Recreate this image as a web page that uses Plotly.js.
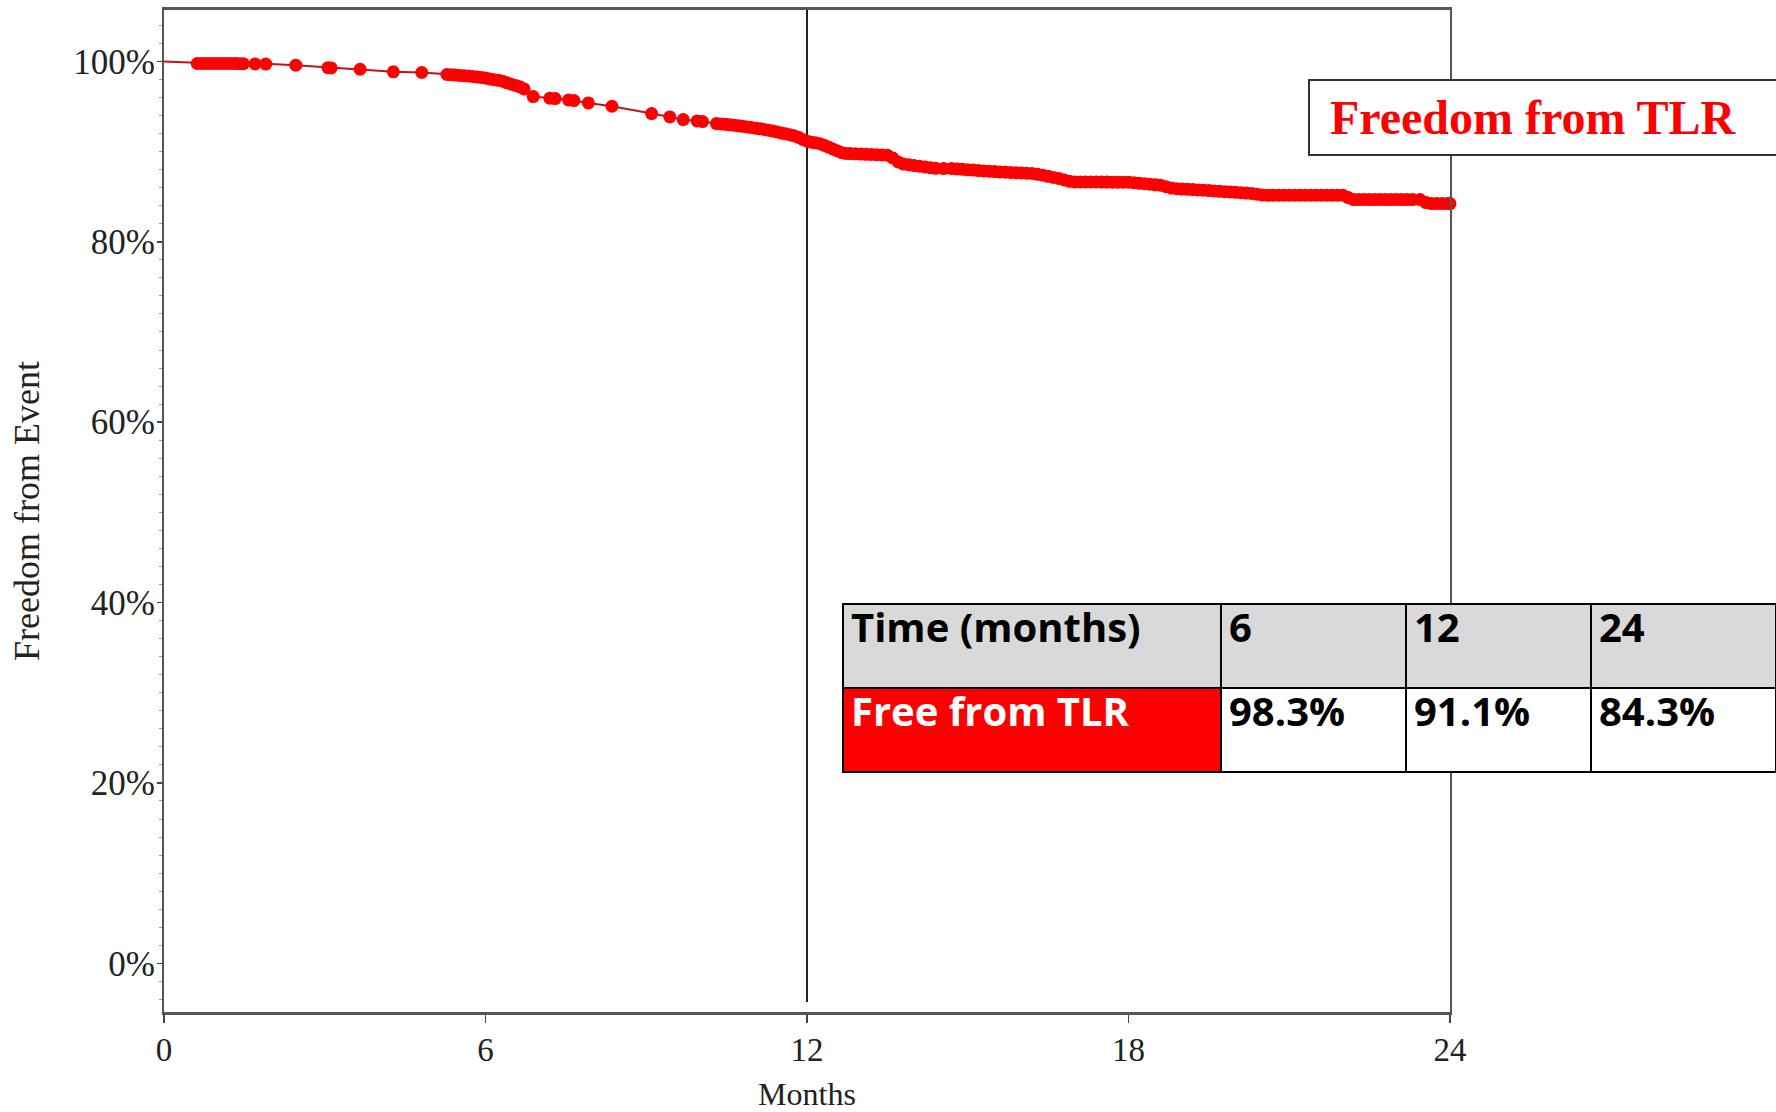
<!DOCTYPE html>
<html>
<head>
<meta charset="utf-8">
<script src="https://cdn.plot.ly/plotly-3.0.1.min.js"></script>
<style>html,body{margin:0;padding:0;background:#fff;}#chart{width:1776px;height:1112px;}</style>
</head>
<body>
<div id="chart"></div>
<script>
// ---- data ----
var curveMonths = [0, 0.6, 1.5, 2.0, 2.46, 3.1, 3.66, 4.28, 4.81, 5.28, 5.7, 6.0, 6.27, 6.64, 6.89, 7.26, 7.61, 7.92, 8.36, 9.1, 9.44, 9.69, 10.0, 10.31, 10.8, 11.3, 11.74, 12.0, 12.24, 12.68, 13.0, 13.55, 13.74, 14.48, 14.67, 15.6, 16.22, 16.72, 16.97, 18.03, 18.59, 18.84, 20.33, 20.52, 22.07, 22.13, 23.44, 23.57, 24.0];
var curveSurvival = [100, 99.85, 99.77, 99.72, 99.58, 99.3, 99.13, 98.85, 98.77, 98.55, 98.4, 98.15, 97.9, 97.2, 96.1, 95.9, 95.7, 95.4, 95.03, 94.22, 93.84, 93.55, 93.37, 93.11, 92.8, 92.4, 91.81, 91.2, 90.9, 89.8, 89.7, 89.6, 88.7, 88.12, 88.1, 87.75, 87.57, 87.0, 86.64, 86.6, 86.27, 85.9, 85.35, 85.16, 85.16, 84.68, 84.68, 84.24, 84.24];

var censorMonths = [0.62, 0.70, 0.78, 0.86, 0.94, 1.02, 1.10, 1.18, 1.26, 1.34, 1.42, 1.48, 1.70, 1.90, 2.46, 3.06, 3.12, 3.66, 4.28, 4.81,
  5.28, 5.36, 5.44, 5.52, 5.60, 5.68, 5.76, 5.84, 5.92, 6.00, 6.08, 6.16, 6.24, 6.32, 6.40, 6.48, 6.56, 6.64, 6.72, 6.89,
  7.20, 7.30, 7.55, 7.65, 7.92, 8.36, 9.10, 9.44, 9.69, 9.95, 10.05,
  10.31, 10.40, 10.48, 10.56, 10.64, 10.72, 10.80, 10.88, 10.96, 11.04, 11.12, 11.20, 11.28, 11.36, 11.44, 11.52, 11.60, 11.68, 11.76, 11.84, 11.92,
  12.00, 12.08, 12.16, 12.24, 12.32, 12.40, 12.48, 12.56, 12.64, 12.72, 12.80, 12.90, 13.00, 13.10, 13.20, 13.30, 13.40, 13.50, 13.60, 13.70, 13.80, 13.90,
  14.00, 14.10, 14.20, 14.30, 14.40, 14.55, 14.70, 14.80, 14.90, 15.00, 15.10, 15.20, 15.30, 15.40, 15.50, 15.60, 15.70, 15.80, 15.90,
  16.00, 16.10, 16.20, 16.30, 16.40, 16.50, 16.60, 16.70, 16.80, 16.90, 17.00, 17.10, 17.20, 17.30, 17.40, 17.50, 17.60, 17.70, 17.80, 17.90,
  18.00, 18.10, 18.20, 18.30, 18.40, 18.50, 18.60, 18.70, 18.80, 18.90, 19.00, 19.10, 19.20, 19.30, 19.40, 19.50, 19.60, 19.70, 19.80, 19.90,
  20.00, 20.10, 20.20, 20.30, 20.40, 20.50, 20.60, 20.70, 20.80, 20.90, 21.00, 21.10, 21.20, 21.30, 21.40, 21.50, 21.60, 21.70, 21.80, 21.90,
  22.00, 22.10, 22.20, 22.30, 22.40, 22.50, 22.60, 22.70, 22.80, 22.90, 23.00, 23.10, 23.20, 23.30, 23.44, 23.55, 23.65, 23.75, 23.85, 23.95, 24.00];
var censorSurvival = [99.77, 99.77, 99.77, 99.77, 99.77, 99.77, 99.77, 99.77, 99.77, 99.76, 99.75, 99.75, 99.72, 99.70, 99.58, 99.30, 99.28, 99.13, 98.84, 98.77,
  98.55, 98.52, 98.49, 98.45, 98.42, 98.38, 98.33, 98.28, 98.22, 98.15, 98.06, 97.97, 97.90, 97.80, 97.62, 97.48, 97.33, 97.18, 96.95, 96.10,
  95.92, 95.88, 95.72, 95.66, 95.40, 95.03, 94.22, 93.84, 93.55, 93.40, 93.33,
  93.11, 93.07, 93.02, 92.97, 92.92, 92.86, 92.80, 92.74, 92.67, 92.60, 92.53, 92.46, 92.38, 92.28, 92.18, 92.07, 91.97, 91.87, 91.75, 91.58, 91.35,
  91.15, 91.05, 90.97, 90.88, 90.70, 90.50, 90.30, 90.10, 89.90, 89.80, 89.78, 89.75, 89.72, 89.70, 89.68, 89.65, 89.62, 89.60, 89.30, 88.85, 88.62, 88.55,
  88.45, 88.38, 88.30, 88.22, 88.15, 88.12, 88.12, 88.08, 88.03, 87.98, 87.95, 87.90, 87.86, 87.82, 87.78, 87.75, 87.72, 87.68, 87.66,
  87.63, 87.60, 87.57, 87.48, 87.38, 87.26, 87.14, 87.02, 86.85, 86.70, 86.64, 86.64, 86.64, 86.63, 86.63, 86.62, 86.62, 86.61, 86.61, 86.60,
  86.60, 86.55, 86.50, 86.44, 86.38, 86.32, 86.27, 86.10, 85.95, 85.88, 85.85, 85.82, 85.79, 85.75, 85.72, 85.68, 85.64, 85.60, 85.56, 85.52,
  85.48, 85.44, 85.40, 85.36, 85.28, 85.18, 85.16, 85.16, 85.16, 85.16, 85.16, 85.16, 85.16, 85.16, 85.16, 85.16, 85.16, 85.16, 85.16, 85.16,
  85.16, 84.90, 84.68, 84.68, 84.68, 84.68, 84.68, 84.68, 84.68, 84.68, 84.68, 84.68, 84.68, 84.68, 84.68, 84.35, 84.24, 84.24, 84.24, 84.24, 84.24];

var xTickVals = [0, 6, 12, 18, 24];
var xTickText = ['0', '6', '12', '18', '24'];
var yTickVals = [0, 20, 40, 60, 80, 100];
var yTickText = ['0%', '20%', '40%', '60%', '80%', '100%'];
var markerMonth = 12;

var tableHeader = ['Time (months)', '6', '12', '24'];
var tableRowLabel = ['Free from TLR'];
var tableValues6 = ['98.3%'];
var tableValues12 = ['91.1%'];
var tableValues24 = ['84.3%'];
var seriesName = 'Freedom from TLR';

// ---- figure ----
var W = 1776, H = 1112;
var mL = 164, mR = 0, mT = 10, mB = 100;
var plotRight = 1450;
var pw = W - mL - mR, ph = H - mT - mB;
function px(x) { return (x - mL) / pw; }
function py(y) { return (H - mB - y) / ph; }

var serif = 'Liberation Serif, Times New Roman, serif';

var traces = [
  {
    type: 'scatter', mode: 'lines', x: curveMonths, y: curveSurvival,
    line: {color: '#c8101a', width: 2}, hoverinfo: 'skip', showlegend: false, cliponaxis: false
  },
  {
    type: 'scatter', mode: 'markers', x: censorMonths, y: censorSurvival,
    marker: {color: '#ff0000', size: 13, line: {width: 0}}, showlegend: false, cliponaxis: false
  },
  {
    type: 'table',
    domain: {x: [px(843), 1], y: [py(775), py(604)]},
    columnwidth: [378, 185, 185, 185],
    header: {
      values: tableHeader,
      align: 'left',
      height: 84,
      fill: {color: '#d9d9d9'},
      line: {color: '#000', width: 2},
      font: {family: 'Open Sans, sans-serif', size: 40, color: '#000', weight: 700}
    },
    cells: {
      values: [tableRowLabel, tableValues6, tableValues12, tableValues24],
      align: 'left',
      height: 84,
      fill: {color: [['#ff0000'], ['#ffffff'], ['#ffffff'], ['#ffffff']]},
      line: {color: '#000', width: 2},
      font: {family: 'Open Sans, sans-serif', size: 40, color: [['#ffffff'], ['#000'], ['#000'], ['#000']], weight: 700}
    }
  }
];

var layout = {
  width: W, height: H,
  margin: {l: mL, r: mR, t: mT, b: mB, pad: 0},
  paper_bgcolor: '#fff', plot_bgcolor: '#fff',
  font: {family: serif, color: '#222'},
  showlegend: false,
  xaxis: {
    domain: [0, px(plotRight)],
    range: [0, 24],
    tickmode: 'array', tickvals: xTickVals, ticktext: xTickText,
    ticks: 'outside', ticklen: 8, tickwidth: 1.5, tickcolor: '#444',
    ticklabelstandoff: -2,
    showline: true, linecolor: '#555', linewidth: 3, mirror: true,
    showgrid: false, zeroline: false,
    tickfont: {family: serif, size: 33, color: '#222'},
    title: {text: 'Months', font: {family: serif, size: 32, color: '#222'}, standoff: 22}
  },
  yaxis: {
    range: [-5.4, 105.7],
    tickmode: 'array', tickvals: yTickVals, ticktext: yTickText,
    ticks: 'outside', ticklen: 5, tickwidth: 1.5, tickcolor: '#444',
    ticklabelstandoff: -5,
    minor: {ticks: 'outside', ticklen: 3, dtick: 2, tickcolor: '#999', tickwidth: 1},
    showline: true, linecolor: '#555', linewidth: 2, mirror: true,
    showgrid: false, zeroline: false,
    tickfont: {family: serif, size: 35, color: '#222'},
    title: {text: 'Freedom from Event', font: {family: serif, size: 36, color: '#222'}, standoff: 23}
  },
  shapes: [
    {type: 'line', xref: 'x', yref: 'y', x0: markerMonth, x1: markerMonth, y0: -4.3, y1: 105.7,
     line: {color: '#222', width: 2}, layer: 'below'}
  ],
  annotations: [
    {xref: 'paper', yref: 'paper', x: px(1308), y: py(79), xanchor: 'left', yanchor: 'top',
     text: '<b>\u00a0' + seriesName + '</b>', showarrow: false, align: 'left',
     width: 480, height: 57, borderpad: 8, bordercolor: '#333', borderwidth: 2, bgcolor: '#fff',
     font: {family: serif, size: 48, color: '#ff0000'}}
  ]
};

Plotly.newPlot('chart', traces, layout, {displayModeBar: false, staticPlot: true});
</script>
</body>
</html>
